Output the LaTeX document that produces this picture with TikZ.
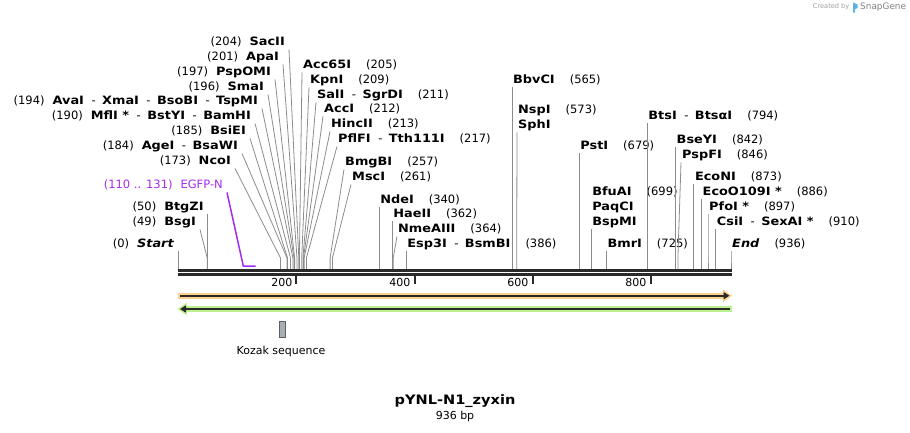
\documentclass[tikz,border=0pt]{standalone}
\usepackage{fontspec}
\setmainfont{DejaVu Sans}[ItalicFont={DejaVu Sans Oblique},BoldFont={DejaVu Sans Bold},BoldItalicFont={DejaVu Sans Bold Oblique},BoldFeatures={FakeStretch=1.12},BoldItalicFeatures={FakeStretch=1.12}]
\usetikzlibrary{arrows.meta}
\definecolor{cutgray}{HTML}{8C8C8C}
\definecolor{mapblack}{HTML}{2A2A2A}
\definecolor{primerpurple}{HTML}{A52BF0}
\definecolor{fwdorange}{HTML}{FDD18A}
\definecolor{revgreen}{HTML}{BDF08F}
\definecolor{kozakgray}{HTML}{A7AEB6}
\definecolor{logoblue}{HTML}{5AB4E6}
\newcommand{\enzsep}{\hspace{7.5pt}-\hspace{6.5pt}}
\newcommand{\numgap}{\hspace{8pt}}
\newcommand{\rgap}{\hspace{15pt}}
\tikzset{
    lab/.style={anchor=east,inner xsep=4pt,inner ysep=2pt,text height=8.5pt,text depth=2pt,font=\fontsize{11.5}{13}\selectfont},
    rlab/.style={lab,anchor=west,inner xsep=1pt},
    cut/.style={draw=cutgray,line width=0.8pt},
    primer/.style={draw=primerpurple,line width=1.5pt},
    bar/.style={draw=mapblack,line width=2.6pt},
    tick/.style={draw=mapblack,line width=2pt},
    ticklab/.style={anchor=east,inner sep=0pt,font=\fontsize{11}{13}\selectfont},
    fwdhalo/.style={draw=fwdorange,line width=6pt,-{Triangle[length=9pt,width=12pt]}},
    revhalo/.style={draw=revgreen,line width=6pt,-{Triangle[length=9pt,width=12pt]}},
    strand/.style={draw=mapblack,line width=1.8pt,-{Triangle[length=6pt,width=7pt]}},
    kozak/.style={draw=mapblack!75,fill=kozakgray,line width=0.8pt,minimum width=6pt,minimum height=16pt,inner sep=0pt},
    plain/.style={inner sep=0pt,font=\fontsize{11}{13}\selectfont},
}
\begin{document}
\begin{tikzpicture}[x=1pt,y=-1pt]
    \useasboundingbox (0,0) rectangle (910,432);

    % sites on the sequence
    \coordinate (knee) at (0,258);
    \coordinate (p0) at (178.3,269);
    \coordinate (p49) at (207.2,269);
    \coordinate (p50) at (207.8,269);
    \coordinate (e110) at (243.3,266);
    \coordinate (e131) at (255.7,266);
    \coordinate (p173) at (280.5,269);
    \coordinate (p184) at (287.0,269);
    \coordinate (p185) at (287.5,269);
    \coordinate (p190) at (290.5,269);
    \coordinate (p194) at (292.9,269);
    \coordinate (p196) at (294.0,269);
    \coordinate (p197) at (294.6,269);
    \coordinate (p201) at (297.0,269);
    \coordinate (p204) at (298.8,269);
    \coordinate (p205) at (299.4,269);
    \coordinate (p209) at (301.7,269);
    \coordinate (p211) at (302.9,269);
    \coordinate (p212) at (303.5,269);
    \coordinate (p213) at (304.1,269);
    \coordinate (p217) at (306.4,269);
    \coordinate (p257) at (330.1,269);
    \coordinate (p261) at (332.4,269);
    \coordinate (p340) at (379.1,269);
    \coordinate (p362) at (392.1,269);
    \coordinate (p364) at (393.2,269);
    \coordinate (p386) at (406.2,269);
    \coordinate (p565) at (511.9,269);
    \coordinate (p573) at (516.7,269);
    \coordinate (p679) at (579.2,269);
    \coordinate (p699) at (591.1,269);
    \coordinate (p725) at (606.4,269);
    \coordinate (p794) at (647.2,269);
    \coordinate (p842) at (675.5,269);
    \coordinate (p846) at (677.9,269);
    \coordinate (p873) at (693.8,269);
    \coordinate (p886) at (701.5,269);
    \coordinate (p897) at (708.0,269);
    \coordinate (p910) at (715.7,269);
    \coordinate (p936) at (731.0,269);

    % labels left of their lines
    \node[lab] (l204) at (289,42) {(204)\numgap\textbf{SacII}};
    \node[lab] (l201) at (283,57) {(201)\numgap\textbf{ApaI}};
    \node[lab] (l197) at (275,72) {(197)\numgap\textbf{PspOMI}};
    \node[lab] (l196) at (268,87) {(196)\numgap\textbf{SmaI}};
    \node[lab] (l194) at (262,101) {(194)\numgap\textbf{AvaI}\enzsep\textbf{XmaI}\enzsep\textbf{BsoBI}\enzsep\textbf{TspMI}};
    \node[lab] (l190) at (255,116) {(190)\numgap\textbf{MflI *}\enzsep\textbf{BstYI}\enzsep\textbf{BamHI}};
    \node[lab] (l185) at (250,131) {(185)\numgap\textbf{BsiEI}};
    \node[lab] (l184) at (242,146) {(184)\numgap\textbf{AgeI}\enzsep\textbf{BsaWI}};
    \node[lab] (l173) at (235,161) {(173)\numgap\textbf{NcoI}};
    \node[lab,text=primerpurple] (egfp) at (227,185) {(110 .. 131)\numgap EGFP-N};
    \node[lab] (l50) at (207.8,207) {(50)\numgap\textbf{BtgZI}};
    \node[lab] (l49) at (200,222) {(49)\numgap\textbf{BsgI}};
    \node[lab] (l0) at (178.3,244) {(0)\numgap\textbf{\textit{Start}}};

    % labels right of their lines
    \node[rlab] (r205) at (302,65) {\textbf{Acc65I}\rgap(205)};
    \node[rlab] (r209) at (309,80) {\textbf{KpnI}\rgap(209)};
    \node[rlab] (r211) at (316,95) {\textbf{SalI}\enzsep\textbf{SgrDI}\rgap(211)};
    \node[rlab] (r212) at (323,109) {\textbf{AccI}\rgap(212)};
    \node[rlab] (r213) at (330,124) {\textbf{HincII}\rgap(213)};
    \node[rlab] (r217) at (337,139) {\textbf{PflFI}\enzsep\textbf{Tth111I}\rgap(217)};
    \node[rlab] (r257) at (344,162) {\textbf{BmgBI}\rgap(257)};
    \node[rlab] (r261) at (351,177) {\textbf{MscI}\rgap(261)};
    \node[rlab] (r340) at (379.1,200) {\textbf{NdeI}\rgap(340)};
    \node[rlab] (r362) at (392.1,214) {\textbf{HaeII}\rgap(362)};
    \node[rlab] (r364) at (397,229) {\textbf{NmeAIII}\rgap(364)};
    \node[rlab] (r386) at (406.2,244) {\textbf{Esp3I}\enzsep\textbf{BsmBI}\rgap(386)};
    \node[rlab] (r565) at (511.9,80) {\textbf{BbvCI}\rgap(565)};
    \node[rlab] (r573) at (517,110) {\textbf{NspI}\rgap(573)};
    \node[rlab] (sphi) at (517,125) {\textbf{SphI}};
    \node[rlab] (r679) at (579.2,146) {\textbf{PstI}\rgap(679)};
    \node[rlab] (r699) at (591.1,192) {\textbf{BfuAI}\rgap(699)};
    \node[rlab] (paqci) at (591.1,207) {\textbf{PaqCI}};
    \node[rlab] (bspmi) at (591.1,222) {\textbf{BspMI}};
    \node[rlab] (r725) at (606.4,244) {\textbf{BmrI}\rgap(725)};
    \node[rlab] (r794) at (647.2,116) {\textbf{BtsI}\enzsep\textbf{BtsαI}\rgap(794)};
    \node[rlab] (r842) at (675.5,140) {\textbf{BseYI}\rgap(842)};
    \node[rlab] (r846) at (681,155) {\textbf{PspFI}\rgap(846)};
    \node[rlab] (r873) at (693.8,177) {\textbf{EcoNI}\rgap(873)};
    \node[rlab] (r886) at (701.5,192) {\textbf{EcoO109I *}\rgap(886)};
    \node[rlab] (r897) at (708,207) {\textbf{PfoI *}\rgap(897)};
    \node[rlab] (r910) at (715.7,222) {\textbf{CsiI}\enzsep\textbf{SexAI *}\rgap(910)};
    \node[rlab] (r936) at (731,244) {\textbf{\textit{End}}\rgap(936)};

    % cut lines
    \draw[cut] (l0.south east) -- (p0 |- knee) -- (p0);
    \draw[cut] (l49.south east) -- (p49 |- knee) -- (p49);
    \draw[cut] (l50.south east) -- (p50 |- knee) -- (p50);
    \draw[cut] (l173.south east) -- (p173 |- knee) -- (p173);
    \draw[cut] (l184.south east) -- (p184 |- knee) -- (p184);
    \draw[cut] (l185.south east) -- (p185 |- knee) -- (p185);
    \draw[cut] (l190.south east) -- (p190 |- knee) -- (p190);
    \draw[cut] (l194.south east) -- (p194 |- knee) -- (p194);
    \draw[cut] (l196.south east) -- (p196 |- knee) -- (p196);
    \draw[cut] (l197.south east) -- (p197 |- knee) -- (p197);
    \draw[cut] (l201.south east) -- (p201 |- knee) -- (p201);
    \draw[cut] (l204.south east) -- (p204 |- knee) -- (p204);
    \draw[cut] (r205.south west) -- (p205 |- knee) -- (p205);
    \draw[cut] (r209.south west) -- (p209 |- knee) -- (p209);
    \draw[cut] (r211.south west) -- (p211 |- knee) -- (p211);
    \draw[cut] (r212.south west) -- (p212 |- knee) -- (p212);
    \draw[cut] (r213.south west) -- (p213 |- knee) -- (p213);
    \draw[cut] (r217.south west) -- (p217 |- knee) -- (p217);
    \draw[cut] (r257.south west) -- (p257 |- knee) -- (p257);
    \draw[cut] (r261.south west) -- (p261 |- knee) -- (p261);
    \draw[cut] (r340.south west) -- (p340 |- knee) -- (p340);
    \draw[cut] (r362.south west) -- (p362 |- knee) -- (p362);
    \draw[cut] (r364.south west) -- (p364 |- knee) -- (p364);
    \draw[cut] (r386.south west) -- (p386 |- knee) -- (p386);
    \draw[cut] (r565.south west) -- (p565 |- knee) -- (p565);
    \draw[cut] (sphi.south west) -- (p573 |- knee) -- (p573);
    \draw[cut] (r679.south west) -- (p679 |- knee) -- (p679);
    \draw[cut] (bspmi.south west) -- (p699 |- knee) -- (p699);
    \draw[cut] (r725.south west) -- (p725 |- knee) -- (p725);
    \draw[cut] (r794.south west) -- (p794 |- knee) -- (p794);
    \draw[cut] (r842.south west) -- (p842 |- knee) -- (p842);
    \draw[cut] (r846.south west) -- (p846 |- knee) -- (p846);
    \draw[cut] (r873.south west) -- (p873 |- knee) -- (p873);
    \draw[cut] (r886.south west) -- (p886 |- knee) -- (p886);
    \draw[cut] (r897.south west) -- (p897 |- knee) -- (p897);
    \draw[cut] (r910.south west) -- (p910 |- knee) -- (p910);
    \draw[cut] (r936.south west) -- (p936 |- knee) -- (p936);
    \draw[primer] (egfp.south east) -- (e110) -- (e131);

    % sequence bar and ruler
    \draw[bar] (178,270.6) -- (731.5,270.6);
    \draw[bar] (178,274.6) -- (731.5,274.6);
    \draw[tick] (296.4,275) -- (296.4,284);
    \draw[tick] (414.5,275) -- (414.5,284);
    \draw[tick] (532.6,275) -- (532.6,284);
    \draw[tick] (650.7,275) -- (650.7,284);
    \node[ticklab] (t200) at (292.5,282) {200};
    \node[ticklab] (t400) at (410.5,282) {400};
    \node[ticklab] (t600) at (528.5,282) {600};
    \node[ticklab] (t800) at (646.5,282) {800};

    % features
    \draw[fwdhalo] (178,295.7) -- (732,295.7);
    \draw[strand] (180,295.7) -- (729.5,295.7);
    \draw[revhalo] (731.5,309) -- (177.5,309);
    \draw[strand] (729.5,309) -- (180,309);
    \node[kozak] (kozak) at (282.5,329) {};
    \node[plain] (kozaklab) at (281,351) {Kozak sequence};

    % title
    \node[plain,font=\fontsize{13}{15}\selectfont\bfseries] (name) at (455,401) {pYNL-N1\_zyxin};
    \node[plain] (size) at (455,416) {936 bp};

    % credit
    \node[plain,anchor=east,text=black!38,font=\fontsize{6.6}{8}\selectfont] (credit) at (849.5,7) {Created by};
    \fill[logoblue] (853,2.5) -- (857.5,4.5) -- (857.5,8) -- (855.2,9) -- (855.2,12.5) -- (853,12.5) -- cycle;
    \node[plain,anchor=west,text=black!50,font=\fontsize{8.9}{10}\selectfont] (snapgene) at (860,7) {SnapGene};
\end{tikzpicture}
\end{document}
